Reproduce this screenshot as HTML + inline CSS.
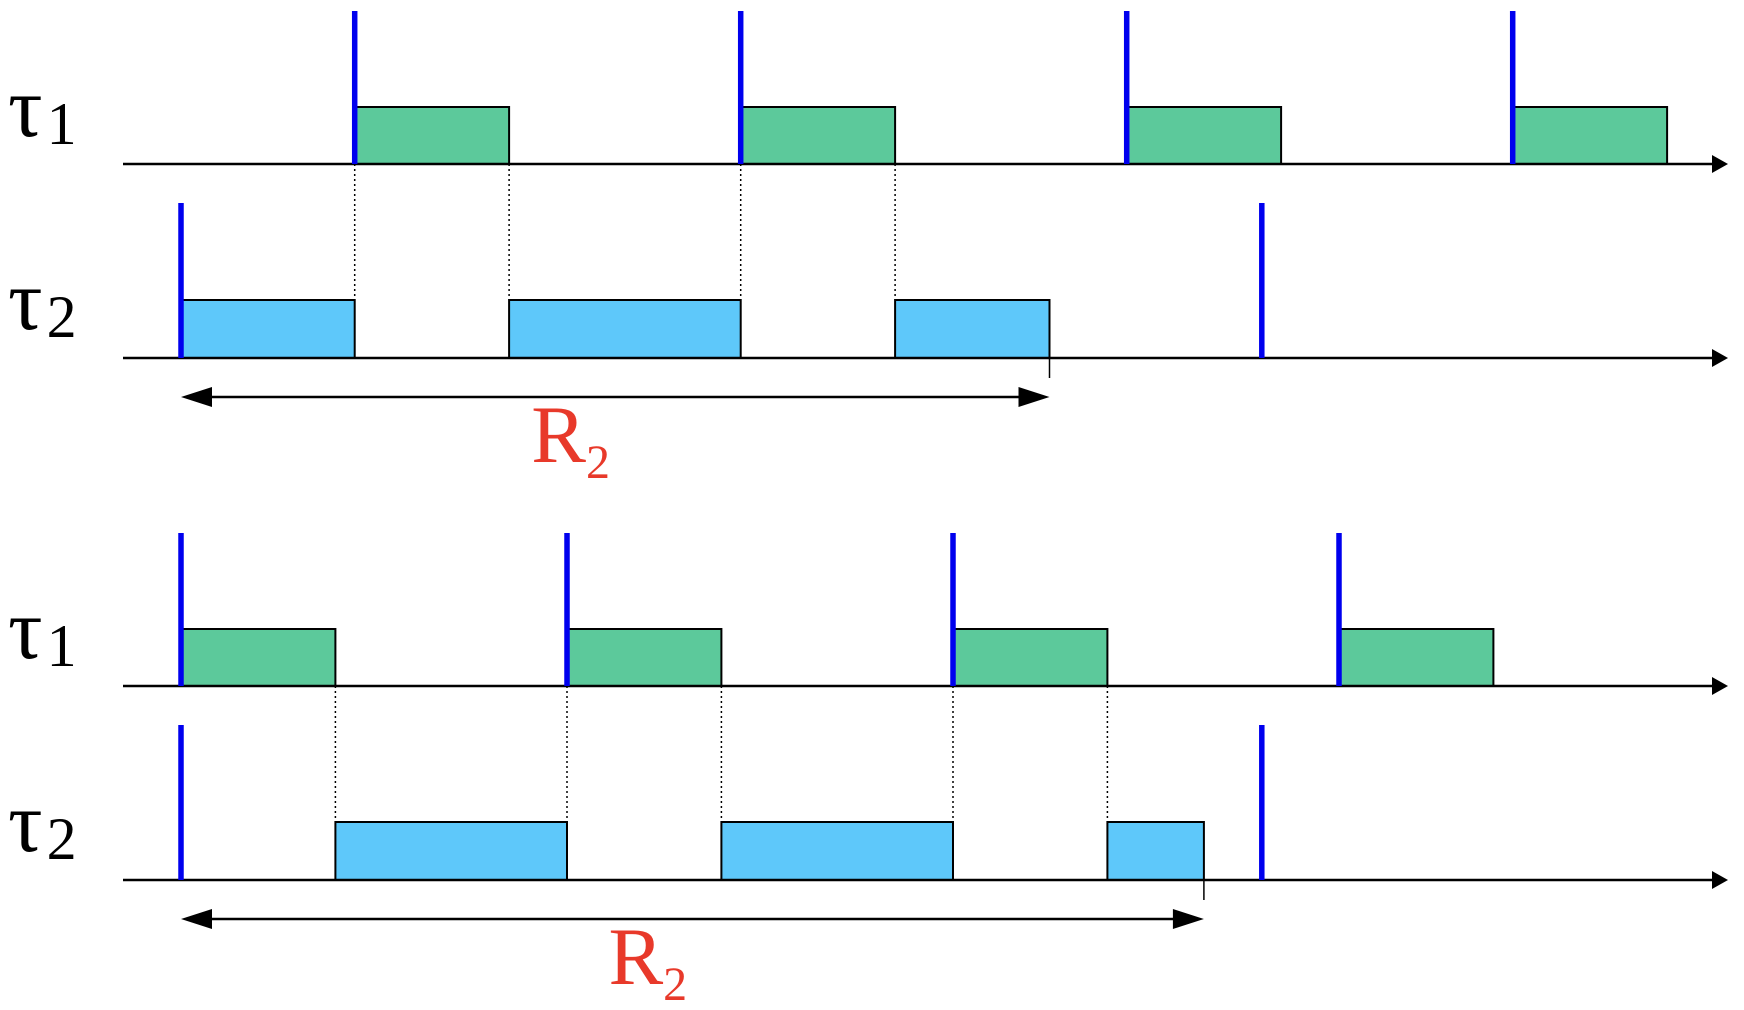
<!DOCTYPE html>
<html><head><meta charset="utf-8"><style>
html,body{margin:0;padding:0;background:#fff;width:1744px;height:1010px;overflow:hidden}
svg{display:block}
text{font-family:"Liberation Serif",serif}
</style></head><body>
<svg id="chart" width="1744" height="1010" viewBox="0 0 1744 1010" xmlns="http://www.w3.org/2000/svg"></svg>
<script>
// time units
const tau1ReleasesTop = [4.5, 14.5, 24.5, 34.5];
const tau1ExecTop = [[4.5, 8.5], [14.5, 18.5], [24.5, 28.5], [34.5, 38.5]];
const tau2ReleasesTop = [0, 28];
const tau2ExecTop = [[0, 4.5], [8.5, 14.5], [18.5, 22.5]];
const responseTop = 22.5;
const tau1ReleasesBot = [0, 10, 20, 30];
const tau1ExecBot = [[0, 4], [10, 14], [20, 24], [30, 34]];
const tau2ReleasesBot = [0, 28];
const tau2ExecBot = [[4, 10], [14, 20], [24, 26.5]];
const responseBot = 26.5;

const NS = "http://www.w3.org/2000/svg";
const svg = document.getElementById('chart');
const X0 = 181, U = 38.6;
function xs(t){ return X0 + t * U; }
function el(tag, attrs, parent){
  const e = document.createElementNS(NS, tag);
  for (const k in attrs) e.setAttribute(k, attrs[k]);
  (parent || svg).appendChild(e);
  return e;
}
function axis(y, name){
  const g = el('g', {});
  
  
  el('line', {x1:123, y1:y, x2:1714, y2:y, stroke:'#000', 'stroke-width':2.5}, g);
  el('polygon', {points:`1712,${y-9} 1728,${y} 1712,${y+9}`, fill:'#000'}, g);
}
function label(x, y, sub, name){
  const t = el('text', {x:x, y:y, 'font-size':86, fill:'#000'});
  
  
  t.textContent = 'τ';
  const s = el('tspan', {'font-size':60, dy:8, dx:4}, t);
  s.textContent = sub;
}
function panel(dy, r1, e1, r2, e2, resp, pname){
  const a1 = 164 + dy, a2 = 358 + dy;
  label(8, 136 + dy, '1', pname + '-tau1-label');
  label(8, 329 + dy, '2', pname + '-tau2-label');
  const guides = [];
  e2.forEach(s => { guides.push(s[0]); guides.push(s[1]); });
  guides.forEach(t => {
    const onRel = r1.some(r => Math.abs(r - t) < 1e-6) || e1.some(s => Math.abs(s[1] - t) < 1e-6);
    if (!onRel) return;
    const d = el('line', {x1:xs(t), y1:a1, x2:xs(t), y2:a2 - 58, stroke:'#000', 'stroke-width':1.5, 'stroke-dasharray':'2,3'});
    
    
  });
  e1.forEach(s => {
    const r = el('rect', {x:xs(s[0]), y:a1 - 57, width:xs(s[1]) - xs(s[0]), height:57, fill:'#5cc99b', stroke:'#000', 'stroke-width':2});
    
    
  });
  e2.forEach(s => {
    const r = el('rect', {x:xs(s[0]), y:a2 - 58, width:xs(s[1]) - xs(s[0]), height:58, fill:'#5ec8fa', stroke:'#000', 'stroke-width':2});
    
    
  });
  axis(a1, pname + '-tau1-axis');
  axis(a2, pname + '-tau2-axis');
  r1.forEach(t => {
    const l = el('line', {x1:xs(t), y1:11 + dy, x2:xs(t), y2:a1, stroke:'#0000ee', 'stroke-width':5.5});
    
    
  });
  r2.forEach(t => {
    const l = el('line', {x1:xs(t), y1:203 + dy, x2:xs(t), y2:a2, stroke:'#0000ee', 'stroke-width':5.5});
    
    
  });
  const tk = el('line', {x1:xs(resp), y1:a2, x2:xs(resp), y2:a2 + 20, stroke:'#000', 'stroke-width':1.5});
  
  
  const ay = 397 + dy, xl = xs(r2[0]), xr = xs(resp);
  const g = el('g', {});
  
  
  el('line', {x1:xl + 20, y1:ay, x2:xr - 20, y2:ay, stroke:'#000', 'stroke-width':2.5}, g);
  el('polygon', {points:`${xl},${ay} ${xl+31},${ay-10} ${xl+31},${ay+10}`, fill:'#000'}, g);
  el('polygon', {points:`${xr},${ay} ${xr-31},${ay-10} ${xr-31},${ay+10}`, fill:'#000'}, g);
  const rl = el('text', {x:(xl + xr) / 2 - 84, y:462 + dy, 'font-size':82, fill:'#e8392a'});
  
  
  rl.textContent = 'R';
  const sb = el('tspan', {'font-size':48, dy:16}, rl);
  sb.textContent = '2';
}
panel(0, tau1ReleasesTop, tau1ExecTop, tau2ReleasesTop, tau2ExecTop, responseTop, 'top');
panel(522, tau1ReleasesBot, tau1ExecBot, tau2ReleasesBot, tau2ExecBot, responseBot, 'bottom');
</script>
</body></html>
